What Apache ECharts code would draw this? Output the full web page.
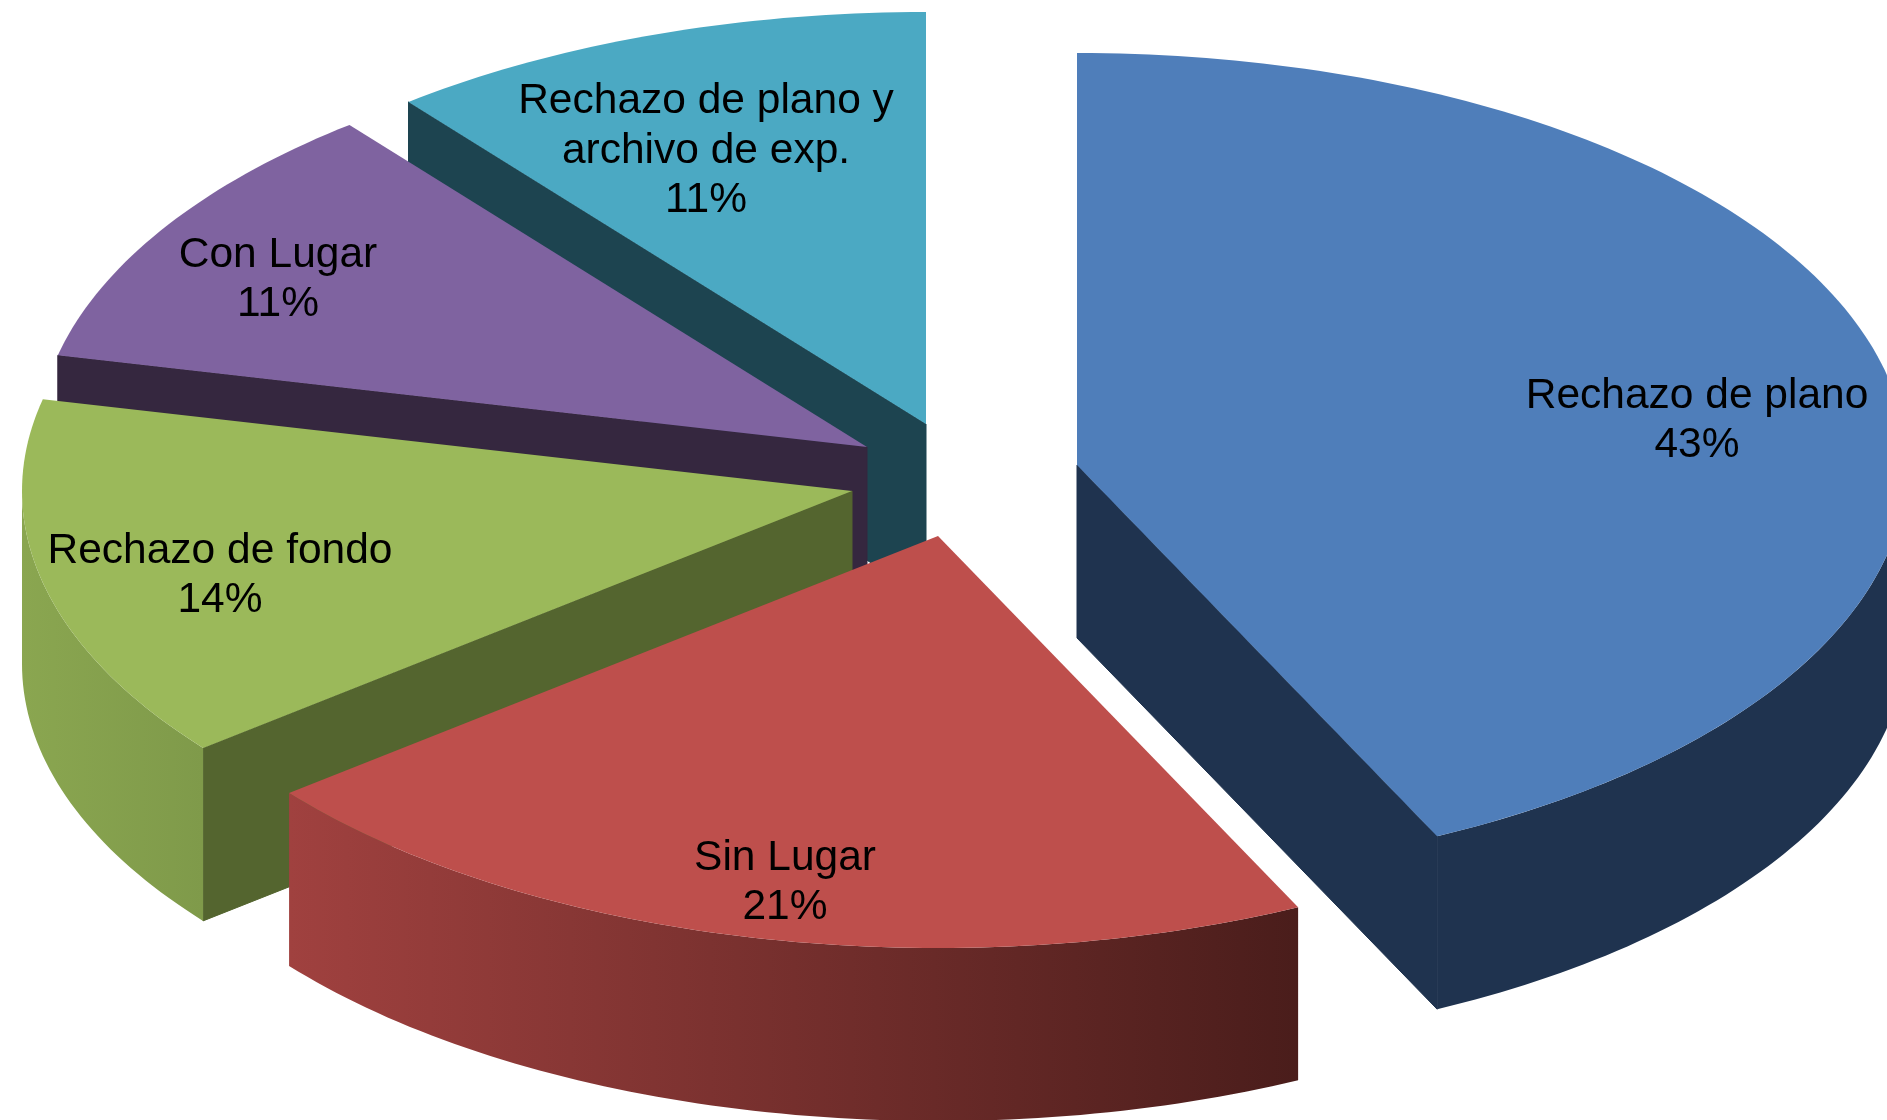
<!DOCTYPE html>
<html>
<head>
<meta charset="utf-8">
<title>Resoluciones</title>
<style>
    html, body { margin: 0; padding: 0; background: #fff; overflow: hidden; }
    #main { width: 1887px; height: 1120px; }
</style>
<script src="https://cdn.jsdelivr.net/npm/echarts@6/dist/echarts.min.js"></script>
</head>
<body>
<div id="main"></div>
<script>
// los datos
var categories = ['Rechazo de plano', 'Sin Lugar', 'Rechazo de fondo', 'Con Lugar', 'Rechazo de plano y\narchivo de exp.'];
var values = [12, 6, 4, 3, 3];

// colores de cada porcion
var topColors = ['#4F7EBA', '#BE4F4C', '#9BB95A', '#7F63A0', '#4BA9C3'];
var cutColors = ['#1F334F', '#4A1D1B', '#54652F', '#35273F', '#1D4450'];
var wallFrom = ['#1F334F', '#A0413F', '#8AA650', '#35273F', '#1D4450'];
var wallTo = ['#1F334F', '#4A1D1B', '#7F9A4A', '#35273F', '#1D4450'];

// geometria de la elipse, cada porcion esta separada de las demas
var RX = 830, RY = 412, DEPTH = 173;
var centerX = [1077, 938, 852, 867, 926];
var centerY = [465, 536, 491, 447, 424];
var labelX = [1697, 785, 220, 278, 706];
var labelY = [421, 883, 576, 280, 151];
// de atras hacia adelante
var drawOrder = [4, 3, 2, 0, 1];

var total = values.reduce(function (a, b) { return a + b; }, 0);

function sliceAngles(i) {
    var before = 0;
    for (var k = 0; k < i; k++) {
        before += values[k];
    }
    return [before / total * 360, (before + values[i]) / total * 360];
}

function pointAt(i, deg, drop) {
    var r = deg * Math.PI / 180;
    return [centerX[i] + RX * Math.sin(r), centerY[i] - RY * Math.cos(r) + (drop || 0)];
}

function arcPoints(i, from, to, drop) {
    var pts = [];
    var n = Math.max(1, Math.ceil(to - from));
    for (var k = 0; k <= n; k++) {
        pts.push(pointAt(i, from + (to - from) * k / n, drop));
    }
    return pts;
}

function cutWall(i, deg) {
    var a = [centerX[i], centerY[i]];
    var b = pointAt(i, deg);
    return {
        type: 'polygon',
        shape: { points: [a, b, [b[0], b[1] + DEPTH], [a[0], a[1] + DEPTH]] },
        // el borde tapa la linea clara entre paredes
        style: { fill: cutColors[i], stroke: cutColors[i], lineWidth: 1 }
    };
}

function renderSlice(params, api) {
    var i = drawOrder[params.dataIndex];
    var ang = sliceAngles(i);
    var children = [];
    // caras del corte, solo las que miran hacia abajo
    if (Math.sin(ang[0] * Math.PI / 180) < -0.001) {
        children.push(cutWall(i, ang[0]));
    }
    if (Math.sin(ang[1] * Math.PI / 180) > 0.001) {
        children.push(cutWall(i, ang[1]));
    }
    // pared exterior
    var from = Math.max(ang[0], 90), to = Math.min(ang[1], 270);
    if (to > from) {
        var upper = arcPoints(i, from, to, 0);
        var lower = arcPoints(i, from, to, DEPTH).reverse();
        children.push({
            type: 'polygon',
            shape: { points: upper.concat(lower) },
            style: {
                // la sombra va de derecha a izquierda
                fill: new echarts.graphic.LinearGradient(0, 0, 1, 0, [
                    { offset: 0, color: wallFrom[i] },
                    { offset: 1, color: wallTo[i] }
                ])
            }
        });
    }
    // cara de arriba
    var top = [[centerX[i], centerY[i]]].concat(arcPoints(i, ang[0], ang[1], 0));
    children.push({
        type: 'polygon',
        shape: { points: top },
        style: { fill: topColors[i] }
    });
    children.push({
        type: 'text',
        x: labelX[i],
        y: labelY[i],
        z2: 10,
        style: {
            text: categories[i] + '\n' + Math.round(values[i] / total * 100) + '%',
            fill: '#000',
            font: '42.5px "Liberation Sans", Arial, sans-serif',
            lineHeight: 49.5,
            align: 'center',
            verticalAlign: 'middle'
        }
    });
    return { type: 'group', children: children };
}

var myChart = echarts.init(document.getElementById('main'));
myChart.setOption({
    backgroundColor: '#fff',
    animation: false,
    series: [{
        type: 'custom',
        coordinateSystem: 'none',
        renderItem: renderSlice,
        data: drawOrder.map(function (i) { return values[i]; })
    }]
});
</script>
</body>
</html>
